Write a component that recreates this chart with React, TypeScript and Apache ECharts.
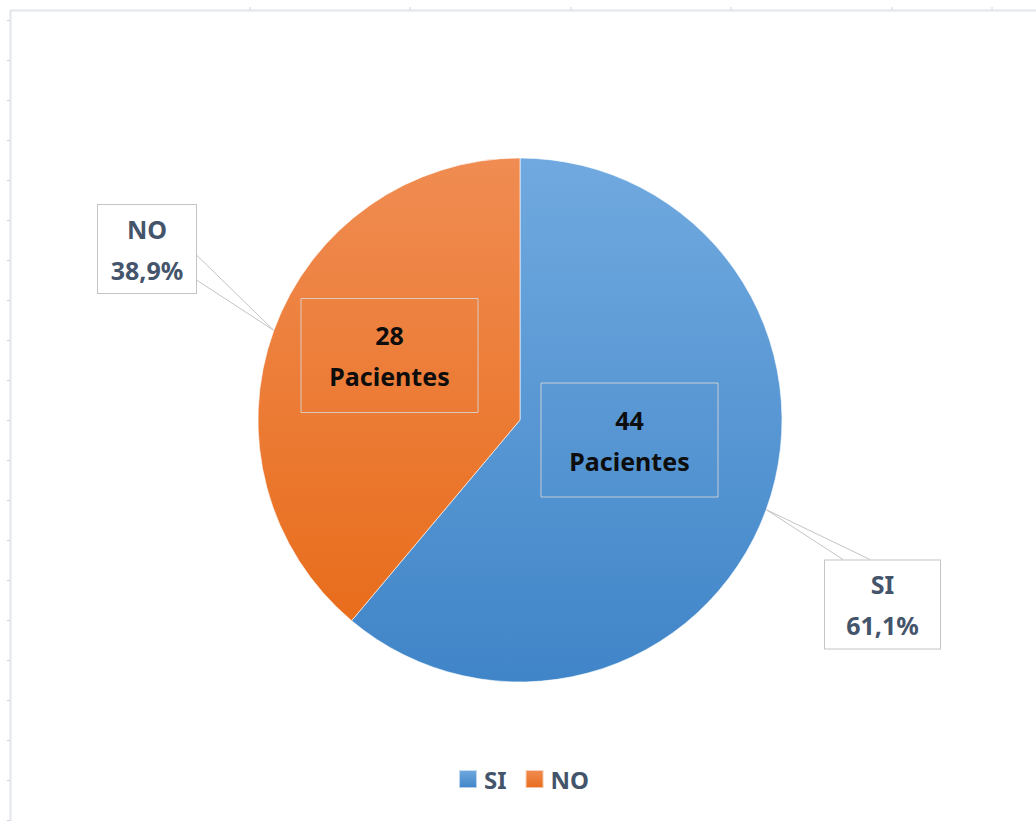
import React, { useEffect, useRef } from "react";
import * as echarts from "echarts";

const categories = ["SI", "NO"];
const pacientes = [44, 28];

const FONT = "'Noto Sans', 'Open Sans', sans-serif";

// label box centres / sizes / callout anchors (layout only)
const INNER_POS = [
  { x: 629.5, y: 440 },
  { x: 389.5, y: 355.5 },
];
const OUTER_POS = [
  { x: 882.5, y: 604.5, w: 93, a1: [843, 559.5], a2: [870, 559.5] },
  { x: 147, y: 249, w: 76, a1: [196.5, 255], a2: [196.5, 280] },
];

const COLORS = [
  new echarts.graphic.LinearGradient(0, 0, 0, 1, [
    { offset: 0, color: "#70a9df" },
    { offset: 1, color: "#4085c8" },
  ]),
  new echarts.graphic.LinearGradient(0, 0, 0, 1, [
    { offset: 0, color: "#f08c52" },
    { offset: 1, color: "#e86d1c" },
  ]),
];

export default function App() {
  const ref = useRef<HTMLDivElement>(null);
  useEffect(() => {
    if (!ref.current) return;
    const chart = echarts.init(ref.current, undefined, { renderer: "svg" });
    const data = categories.map((name, i) => ({
      name,
      value: pacientes[i],
      itemStyle: { color: COLORS[i] },
    }));
    const frame: any[] = [
      { type: "line", shape: { x1: 10, y1: 10.5, x2: 1036, y2: 10.5 }, style: { stroke: "#e2e6eb", lineWidth: 2 } },
      { type: "line", shape: { x1: 10.5, y1: 10, x2: 10.5, y2: 821 }, style: { stroke: "#e2e6eb", lineWidth: 2 } },
    ];
    [250, 410, 571, 731, 892, 992].forEach((x) =>
      frame.push({ type: "line", shape: { x1: x, y1: 7, x2: x, y2: 10 }, style: { stroke: "#d0d4da", lineWidth: 1 } })
    );
    for (let y = 20.5; y < 821; y += 40) {
      frame.push({ type: "line", shape: { x1: 7, y1: y, x2: 10, y2: y }, style: { stroke: "#d0d4da", lineWidth: 1 } });
    }
    chart.setOption({
      animation: false,
      backgroundColor: "#ffffff",
      graphic: frame,
      legend: {
        data: categories,
        left: 458,
        top: 767,
        padding: 0,
        icon: "rect",
        itemWidth: 18,
        itemHeight: 18,
        itemGap: 18,
        textStyle: {
          fontFamily: FONT,
          fontWeight: "bold",
          fontSize: 24,
          color: "#44546a",
          padding: [0, 0, 0, 2],
        },
      },
      series: [
        {
          type: "pie",
          center: [520, 420],
          radius: 262,
          startAngle: 90,
          clockwise: true,
          avoidLabelOverlap: false,
          data,
          itemStyle: { borderColor: "rgba(255,255,255,0.6)", borderWidth: 1 },
          label: {
            show: true,
            position: "inside",
            formatter: (p: any) => `${p.value}\nPacientes`,
            fontFamily: FONT,
            fontWeight: "bold",
            fontSize: 25,
            lineHeight: 41,
            width: 125,
            color: "#0d0d0d",
            padding: [16, 26, 16, 26],
            borderColor: "rgba(215,215,215,0.85)",
            borderWidth: 1,
            align: "center",
            verticalAlign: "middle",
          },
          labelLine: { show: false },
          labelLayout: (p: any) => {
            const pos = INNER_POS[p.dataIndex];
            return { x: pos.x, y: pos.y, align: "center", verticalAlign: "middle" };
          },
          emphasis: { disabled: true },
        },
        {
          type: "pie",
          center: [520, 420],
          radius: 262,
          startAngle: 90,
          clockwise: true,
          avoidLabelOverlap: false,
          silent: true,
          data: categories.map((name, i) => ({
            name,
            value: pacientes[i],
            label: { width: OUTER_POS[i].w },
          })),
          itemStyle: { color: "rgba(0,0,0,0)", borderWidth: 0 },
          label: {
            show: true,
            position: "outside",
            formatter: (p: any) => `${p.name}\n${p.percent.toFixed(1).replace(".", ",")}%`,
            fontFamily: FONT,
            fontWeight: "bold",
            fontSize: 25,
            lineHeight: 41,
            color: "#44546a",
            backgroundColor: "#ffffff",
            borderColor: "#c4c4c4",
            borderWidth: 1,
            padding: [3, 11, 3, 11],
            align: "center",
            verticalAlign: "middle",
          },
          labelLine: {
            show: true,
            length: 20,
            length2: 10,
            lineStyle: { color: "#c4c4c4", width: 1 },
          },
          labelLayout: (p: any) => {
            const pos = OUTER_POS[p.dataIndex];
            const edge = p.labelLinePoints ? p.labelLinePoints[0] : null;
            const res: any = { x: pos.x, y: pos.y, align: "center", verticalAlign: "middle" };
            if (edge) res.labelLinePoints = [pos.a1, edge, pos.a2];
            return res;
          },
          emphasis: { disabled: true },
        },
      ],
    });
    return () => chart.dispose();
  }, []);
  return (
    <div
      ref={ref}
      style={{ position: "fixed", left: 0, top: 0, width: 1036, height: 821 }}
    />
  );
}
